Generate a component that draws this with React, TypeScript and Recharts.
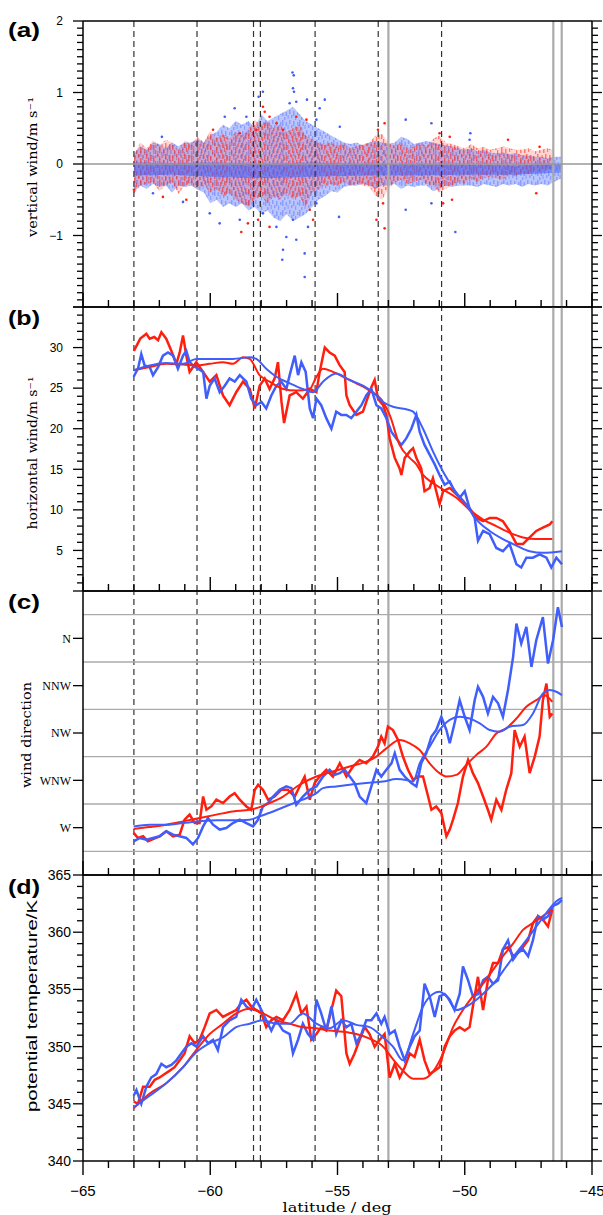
import React from "react";
import { ComposedChart, Line, Area, Scatter, XAxis, YAxis, ReferenceLine } from "recharts";

const RED = "#ff1f0f";
const BLUE = "#3f5efb";
const SANS = "Liberation Sans, Arial, sans-serif";
const SERIF = "DejaVu Serif, serif";

// latitude axis
const LAT_TICKS = [-65, -64, -63, -62, -61, -60, -59, -58, -57, -56, -55, -54, -53, -52, -51, -50, -49, -48, -47, -46, -45];
const LAT_LABELS = [-65, -60, -55, -50, -45];
const DASHED_LATS = [-63.0, -60.52, -58.3, -58.03, -55.88, -53.4, -50.91];
const GRAY_LATS = [-53.0, -46.52, -46.19];

// (a) vertical wind: [lat, low, high] of the dense cloud, plus loose points
const A_LABELS = [2, 1, 0, -1];
const A_MAJORS = [-2, -1, 0, 1, 2];
const redCloudA: [number, number, number][] = [
  [-63.0, -0.42, 0.12], [-62.75, -0.3, 0.3], [-62.5, -0.28, 0.22], [-62.25, -0.25, 0.33], [-62.0, -0.38, 0.26],
  [-61.75, -0.3, 0.34], [-61.5, -0.25, 0.3], [-61.25, -0.42, 0.2], [-61.0, -0.3, 0.33], [-60.75, -0.28, 0.28],
  [-60.5, -0.35, 0.38], [-60.25, -0.3, 0.3], [-60.0, -0.4, 0.46], [-59.75, -0.35, 0.36], [-59.5, -0.45, 0.42],
  [-59.25, -0.4, 0.35], [-59.0, -0.5, 0.45], [-58.75, -0.55, 0.4], [-58.5, -0.6, 0.5], [-58.25, -0.5, 0.62],
  [-58.0, -0.45, 0.55], [-57.75, -0.55, 0.6], [-57.5, -0.45, 0.5], [-57.25, -0.5, 0.55], [-57.0, -0.4, 0.45],
  [-56.75, -0.5, 0.5], [-56.5, -0.45, 0.55], [-56.25, -0.6, 0.4], [-56.0, -0.4, 0.35], [-55.75, -0.35, 0.3],
  [-55.5, -0.3, 0.28], [-55.25, -0.28, 0.3], [-55.0, -0.3, 0.25], [-54.75, -0.25, 0.3], [-54.5, -0.3, 0.22],
  [-54.25, -0.28, 0.25], [-54.0, -0.3, 0.28], [-53.75, -0.32, 0.3], [-53.5, -0.45, 0.4], [-53.25, -0.5, 0.42],
  [-53.0, -0.35, 0.3], [-52.75, -0.25, 0.25], [-52.5, -0.22, 0.3], [-52.25, -0.28, 0.22], [-52.0, -0.25, 0.25],
  [-51.75, -0.22, 0.3], [-51.5, -0.28, 0.25], [-51.25, -0.3, 0.35], [-51.0, -0.4, 0.4], [-50.75, -0.35, 0.3],
  [-50.5, -0.3, 0.28], [-50.25, -0.25, 0.25], [-50.0, -0.28, 0.22], [-49.75, -0.2, 0.28], [-49.5, -0.25, 0.22],
  [-49.25, -0.2, 0.24], [-49.0, -0.18, 0.2], [-48.75, -0.2, 0.22], [-48.5, -0.22, 0.25], [-48.25, -0.15, 0.22],
  [-48.0, -0.18, 0.2], [-47.75, -0.12, 0.2], [-47.5, -0.15, 0.22], [-47.25, -0.1, 0.18], [-47.0, -0.12, 0.2],
  [-46.75, -0.08, 0.22], [-46.55, -0.06, 0.2],
];
const blueCloudA: [number, number, number][] = [
  [-63.0, -0.38, 0.15], [-62.75, -0.3, 0.25], [-62.5, -0.35, 0.2], [-62.25, -0.28, 0.3], [-62.0, -0.32, 0.28],
  [-61.75, -0.3, 0.22], [-61.5, -0.4, 0.3], [-61.25, -0.3, 0.25], [-61.0, -0.32, 0.3], [-60.75, -0.3, 0.3],
  [-60.5, -0.36, 0.35], [-60.25, -0.4, 0.3], [-60.0, -0.55, 0.4], [-59.75, -0.5, 0.45], [-59.5, -0.6, 0.55],
  [-59.25, -0.55, 0.5], [-59.0, -0.6, 0.6], [-58.75, -0.55, 0.55], [-58.5, -0.65, 0.6], [-58.25, -0.6, 0.5],
  [-58.0, -0.7, 0.7], [-57.75, -0.65, 0.6], [-57.5, -0.75, 0.65], [-57.25, -0.8, 0.7], [-57.0, -0.7, 0.75],
  [-56.75, -0.8, 0.8], [-56.5, -0.75, 0.7], [-56.25, -0.7, 0.6], [-56.0, -0.6, 0.55], [-55.75, -0.5, 0.5],
  [-55.5, -0.45, 0.45], [-55.25, -0.38, 0.4], [-55.0, -0.4, 0.35], [-54.75, -0.32, 0.3], [-54.5, -0.3, 0.28],
  [-54.25, -0.3, 0.3], [-54.0, -0.28, 0.26], [-53.75, -0.3, 0.3], [-53.5, -0.35, 0.32], [-53.25, -0.3, 0.3],
  [-53.0, -0.3, 0.28], [-52.75, -0.28, 0.3], [-52.5, -0.35, 0.38], [-52.25, -0.3, 0.35], [-52.0, -0.32, 0.28],
  [-51.75, -0.3, 0.3], [-51.5, -0.3, 0.32], [-51.25, -0.38, 0.3], [-51.0, -0.35, 0.28], [-50.75, -0.3, 0.26],
  [-50.5, -0.32, 0.25], [-50.25, -0.3, 0.22], [-50.0, -0.3, 0.2], [-49.75, -0.3, 0.22], [-49.5, -0.32, 0.18],
  [-49.25, -0.28, 0.2], [-49.0, -0.3, 0.16], [-48.75, -0.32, 0.15], [-48.5, -0.28, 0.16], [-48.25, -0.3, 0.14],
  [-48.0, -0.28, 0.15], [-47.75, -0.32, 0.12], [-47.5, -0.28, 0.12], [-47.25, -0.3, 0.1], [-47.0, -0.28, 0.1],
  [-46.75, -0.3, 0.08], [-46.5, -0.25, 0.1], [-46.18, -0.2, 0.1],
];
const blueCoreA: [number, number, number][] = [
  [-63.0, -0.16, 0.02], [-61.5, -0.15, 0.01], [-60.0, -0.18, 0.02], [-58.0, -0.2, 0.0], [-56.0, -0.18, 0.02],
  [-54.0, -0.16, 0.0], [-52.0, -0.16, 0.0], [-50.0, -0.15, -0.01], [-48.0, -0.15, -0.02], [-46.18, -0.12, 0.0],
];
const redDotsA: [number, number][] = [
  [-58.19, 0.48], [-57.93, 0.8], [-57.86, 0.73], [-57.4, 0.57], [-57.67, 0.66], [-57.14, 0.48], [-56.62, 0.66],
  [-56.22, 0.62], [-59.89, 0.48], [-58.84, 0.43], [-53.41, 0.48], [-53.15, 0.57], [-50.99, 0.43], [-50.59, 0.38],
  [-48.3, 0.34], [-47.06, 0.24], [-58.52, -0.83], [-58.78, -0.95], [-58.12, -0.78], [-57.67, -0.88], [-55.96, -0.78],
  [-56.09, -0.64], [-53.15, -0.9], [-53.21, -0.55], [-50.85, -0.55], [-50.5, -0.5], [-60.94, -0.5], [-61.86, -0.46],
  [-63.0, -0.36], [-53.47, -0.78], [-47.19, -0.41],
];
const blueDotsA: [number, number][] = [
  [-56.77, 1.28], [-56.72, 1.24], [-56.75, 1.06], [-56.71, 1.01], [-56.62, 0.87], [-56.88, 0.85], [-56.2, 0.9],
  [-57.93, 1.01], [-58.1, 0.94], [-59.04, 0.78], [-59.43, 0.66], [-58.58, 0.66], [-55.7, 0.78], [-55.5, 0.9],
  [-55.83, 0.62], [-54.91, 0.52], [-52.32, 0.62], [-51.31, 0.57], [-49.78, 0.43], [-57.14, -1.2], [-57.17, -1.34],
  [-56.29, -1.58], [-56.29, -1.25], [-56.62, -1.06], [-57.01, -1.02], [-57.4, -0.88], [-56.75, -0.78], [-56.16, -0.88],
  [-59.63, -0.83], [-60.02, -0.69], [-58.84, -0.78], [-57.93, -0.69], [-55.83, -0.55], [-54.94, -0.74], [-52.32, -0.64],
  [-50.37, -0.95], [-51.31, -0.55], [-62.25, -0.41], [-61.07, -0.53], [-61.9, 0.38], [-49.81, 0.34],
];

// (b) horizontal wind, m/s
const B_LABELS = [30, 25, 20, 15, 10, 5];
const B_MAJORS = [0, 5, 10, 15, 20, 25, 30, 35];
const redRawB: [number, number][] = [
  [-63.0, 29.6], [-62.75, 31.1], [-62.51, 31.7], [-62.38, 31.1], [-62.2, 31.3], [-62.05, 30.9], [-61.92, 31.9],
  [-61.73, 31.1], [-61.53, 29.6], [-61.33, 28.0], [-61.2, 29.4], [-61.07, 31.5], [-60.94, 29.0], [-60.81, 27.0],
  [-60.55, 28.2], [-60.28, 27.0], [-60.02, 25.8], [-59.76, 26.6], [-59.5, 24.1], [-59.24, 22.9], [-58.98, 24.5],
  [-58.71, 25.8], [-58.45, 24.9], [-58.25, 22.5], [-58.06, 25.3], [-57.86, 26.2], [-57.67, 24.9], [-57.47, 26.2],
  [-57.34, 28.2], [-57.2, 23.3], [-57.1, 20.7], [-56.88, 24.1], [-56.62, 24.5], [-56.36, 23.7], [-56.09, 24.9],
  [-55.83, 24.5], [-55.7, 27.0], [-55.5, 30.0], [-55.31, 29.4], [-55.11, 29.0], [-54.91, 27.8], [-54.72, 27.0],
  [-54.65, 24.1], [-54.52, 22.9], [-54.26, 21.7], [-54.0, 22.1], [-53.87, 23.3], [-53.67, 25.1], [-53.54, 26.0],
  [-53.41, 23.7], [-53.21, 22.9], [-53.08, 21.7], [-52.95, 18.8], [-52.75, 16.4], [-52.56, 15.1], [-52.49, 14.3],
  [-52.36, 16.4], [-52.16, 17.2], [-52.03, 17.6], [-51.9, 16.4], [-51.71, 15.1], [-51.58, 12.3], [-51.38, 12.7],
  [-51.25, 13.9], [-51.12, 12.3], [-50.99, 10.7], [-50.85, 12.3], [-50.59, 12.7], [-50.33, 11.9], [-50.07, 11.1],
  [-49.81, 10.2], [-49.54, 9.0], [-49.28, 8.6], [-49.02, 9.0], [-48.76, 9.0], [-48.5, 8.6], [-48.24, 7.4],
  [-47.97, 5.8], [-47.71, 5.8], [-47.45, 6.6], [-47.19, 7.4], [-46.93, 7.8], [-46.66, 8.2], [-46.56, 8.6],
];
const blueRawB: [number, number][] = [
  [-63.01, 26.4], [-62.84, 27.4], [-62.71, 29.2], [-62.58, 27.8], [-62.38, 27.6], [-62.25, 26.6], [-62.05, 27.6],
  [-61.86, 29.0], [-61.66, 29.4], [-61.46, 29.0], [-61.27, 27.4], [-61.07, 29.0], [-60.94, 29.6], [-60.81, 28.2],
  [-60.68, 27.8], [-60.48, 27.4], [-60.28, 27.0], [-60.15, 23.7], [-60.02, 25.3], [-59.83, 26.2], [-59.63, 24.5],
  [-59.43, 25.3], [-59.24, 26.2], [-59.04, 25.8], [-58.84, 26.6], [-58.58, 25.8], [-58.39, 23.7], [-58.19, 22.9],
  [-57.99, 23.3], [-57.8, 22.5], [-57.6, 24.1], [-57.4, 25.3], [-57.21, 25.8], [-57.01, 24.9], [-56.88, 26.6],
  [-56.68, 29.0], [-56.55, 26.6], [-56.42, 28.2], [-56.25, 27.0], [-56.09, 22.5], [-55.96, 21.3], [-55.83, 23.7],
  [-55.64, 22.9], [-55.44, 21.3], [-55.24, 20.0], [-55.05, 22.1], [-54.85, 21.7], [-54.65, 21.7], [-54.46, 21.3],
  [-54.26, 22.1], [-54.06, 22.9], [-53.87, 24.1], [-53.67, 24.9], [-53.47, 22.9], [-53.28, 22.5], [-53.08, 21.3],
  [-52.88, 19.6], [-52.69, 18.8], [-52.49, 18.0], [-52.3, 18.8], [-52.1, 20.0], [-51.9, 21.7], [-51.77, 19.6],
  [-51.58, 18.0], [-51.38, 16.8], [-51.18, 15.6], [-50.99, 14.3], [-50.79, 13.1], [-50.59, 13.5], [-50.4, 12.3],
  [-50.2, 11.5], [-50.0, 12.3], [-49.81, 10.2], [-49.61, 9.0], [-49.48, 6.2], [-49.28, 7.4], [-49.02, 7.0],
  [-48.76, 5.3], [-48.5, 4.9], [-48.24, 5.8], [-47.97, 3.3], [-47.78, 2.9], [-47.58, 4.1], [-47.32, 4.1],
  [-47.06, 4.5], [-46.79, 4.1], [-46.6, 2.9], [-46.4, 4.1], [-46.18, 3.3],
];
const redSmoothB: [number, number][] = [
  [-63.01, 27.2], [-62.38, 27.6], [-61.73, 28.0], [-61.07, 27.9], [-60.55, 27.8], [-60.02, 28.0], [-59.5, 28.2],
  [-59.11, 28.0], [-58.71, 28.8], [-58.45, 28.6], [-58.06, 26.6], [-57.67, 25.8], [-57.14, 24.9], [-56.62, 24.7],
  [-56.09, 24.9], [-55.83, 26.4], [-55.57, 27.4], [-55.18, 27.0], [-54.78, 26.4], [-54.26, 25.6], [-53.74, 24.7],
  [-53.21, 23.3], [-52.95, 21.7], [-52.56, 18.0], [-52.16, 16.4], [-51.9, 15.6], [-51.64, 14.3], [-51.25, 13.3],
  [-50.85, 12.5], [-50.33, 11.5], [-49.81, 10.0], [-49.28, 8.8], [-48.76, 8.0], [-48.24, 7.2], [-47.71, 6.6],
  [-47.19, 6.4], [-46.56, 6.4],
];
const blueSmoothB: [number, number][] = [
  [-63.01, 27.2], [-62.38, 27.8], [-61.73, 28.1], [-61.07, 28.0], [-60.55, 28.6], [-59.76, 28.6], [-59.11, 28.6],
  [-58.45, 28.8], [-58.19, 28.6], [-57.8, 27.4], [-57.4, 26.4], [-56.88, 25.6], [-56.36, 24.9], [-55.96, 24.5],
  [-55.57, 25.8], [-55.05, 26.8], [-54.52, 26.0], [-54.0, 25.3], [-53.61, 24.5], [-53.21, 23.3], [-52.82, 22.7],
  [-52.3, 22.4], [-52.03, 22.1], [-51.64, 20.0], [-51.25, 17.2], [-50.85, 14.7], [-50.46, 12.7], [-49.94, 10.6],
  [-49.54, 8.8], [-49.02, 7.4], [-48.5, 6.4], [-47.97, 5.6], [-47.45, 4.9], [-46.93, 4.7], [-46.18, 4.9],
];

// (c) wind direction, degrees
const DIR_TICKS = [270, 292.5, 315, 337.5, 360];
const DIR_NAMES = ["W", "WNW", "NW", "NNW", "N"];
const DIR_GRID = [258.75, 281.25, 303.75, 326.25, 348.75, 371.25];
const redRawC: [number, number][] = [
  [-63.01, 267.5], [-62.84, 265.1], [-62.64, 265.9], [-62.45, 263.5], [-62.25, 264.6], [-61.99, 265.9], [-61.73, 268.3],
  [-61.46, 265.9], [-61.2, 266.7], [-61.01, 273.8], [-60.81, 276.2], [-60.61, 272.2], [-60.42, 272.2], [-60.28, 284.8],
  [-60.15, 278.5], [-59.96, 280.1], [-59.76, 283.3], [-59.5, 281.7], [-59.24, 284.8], [-59.04, 286.4], [-58.84, 283.3],
  [-58.58, 280.1], [-58.39, 278.5], [-58.25, 288.0], [-58.12, 290.4], [-57.93, 288.0], [-57.73, 283.3], [-57.47, 284.8],
  [-57.21, 288.0], [-56.95, 288.0], [-56.68, 284.8], [-56.49, 289.6], [-56.29, 294.3], [-56.09, 283.3], [-55.9, 291.2],
  [-55.7, 294.3], [-55.44, 297.5], [-55.18, 294.3], [-54.91, 300.6], [-54.65, 294.3], [-54.39, 299.1], [-54.13, 302.2],
  [-53.87, 300.6], [-53.61, 303.8], [-53.41, 308.5], [-53.28, 313.3], [-53.15, 310.1], [-53.02, 318.0], [-52.82, 316.4],
  [-52.62, 311.7], [-52.43, 303.8], [-52.23, 297.5], [-52.03, 292.7], [-51.84, 294.3], [-51.64, 294.3], [-51.44, 284.8],
  [-51.31, 278.5], [-51.12, 280.1], [-50.92, 276.9], [-50.72, 265.9], [-50.59, 269.1], [-50.46, 273.8], [-50.27, 281.7],
  [-50.07, 294.3], [-49.87, 302.2], [-49.68, 295.9], [-49.48, 291.2], [-49.28, 284.8], [-49.09, 278.5], [-48.96, 273.8],
  [-48.76, 283.3], [-48.56, 278.5], [-48.37, 288.0], [-48.17, 295.9], [-48.04, 316.4], [-47.84, 308.5], [-47.65, 313.3],
  [-47.45, 295.9], [-47.25, 303.8], [-47.06, 313.3], [-46.93, 330.6], [-46.79, 338.5], [-46.66, 322.7], [-46.56, 324.3],
];
const blueRawC: [number, number][] = [
  [-63.01, 263.5], [-62.77, 265.1], [-62.51, 264.3], [-62.25, 265.1], [-61.99, 265.9], [-61.73, 268.3], [-61.46, 266.7],
  [-61.2, 265.9], [-60.94, 265.1], [-60.68, 262.0], [-60.48, 265.1], [-60.28, 270.6], [-60.09, 274.6], [-59.89, 271.4],
  [-59.63, 269.1], [-59.37, 269.8], [-59.11, 272.2], [-58.84, 273.8], [-58.58, 272.2], [-58.32, 270.6], [-58.12, 273.8],
  [-57.93, 280.1], [-57.73, 281.7], [-57.53, 284.8], [-57.27, 288.0], [-57.01, 289.6], [-56.81, 288.8], [-56.62, 280.9],
  [-56.36, 284.8], [-56.09, 288.0], [-55.83, 289.6], [-55.57, 294.3], [-55.31, 297.5], [-55.11, 295.1], [-54.91, 295.9],
  [-54.72, 297.5], [-54.52, 294.3], [-54.33, 291.2], [-54.13, 284.8], [-53.87, 281.7], [-53.67, 289.6], [-53.47, 297.5],
  [-53.28, 294.3], [-53.08, 297.5], [-52.88, 300.6], [-52.75, 305.4], [-52.56, 297.5], [-52.36, 294.3], [-52.1, 291.2],
  [-51.9, 289.6], [-51.71, 300.6], [-51.51, 305.4], [-51.31, 313.3], [-51.12, 316.4], [-50.92, 322.7], [-50.72, 316.4],
  [-50.59, 310.1], [-50.4, 319.6], [-50.2, 330.6], [-50.0, 322.7], [-49.81, 316.4], [-49.61, 330.6], [-49.48, 337.0],
  [-49.28, 332.2], [-49.09, 324.3], [-48.89, 332.2], [-48.69, 329.1], [-48.5, 322.7], [-48.3, 335.4], [-48.1, 351.2],
  [-47.97, 367.0], [-47.78, 357.5], [-47.58, 365.4], [-47.38, 346.4], [-47.19, 359.1], [-46.93, 370.1], [-46.73, 348.0],
  [-46.53, 359.1], [-46.34, 374.8], [-46.18, 365.4],
];
const redSmoothC: [number, number][] = [
  [-63.01, 269.4], [-62.38, 270.3], [-61.73, 271.4], [-61.07, 273.0], [-60.42, 274.6], [-59.76, 276.2], [-59.11, 277.7],
  [-58.45, 278.5], [-58.19, 279.3], [-57.67, 281.7], [-57.14, 284.8], [-56.49, 290.4], [-55.83, 294.3], [-55.18, 296.7],
  [-54.52, 299.1], [-53.87, 301.4], [-53.47, 303.8], [-53.08, 307.7], [-52.56, 311.7], [-52.16, 310.1], [-51.77, 306.9],
  [-51.38, 300.6], [-50.99, 295.9], [-50.72, 294.3], [-50.33, 295.1], [-49.94, 299.8], [-49.54, 304.6], [-49.15, 308.5],
  [-48.76, 314.8], [-48.37, 317.2], [-47.97, 321.9], [-47.58, 327.5], [-47.19, 330.6], [-46.86, 333.0], [-46.56, 329.8],
];
const blueSmoothC: [number, number][] = [
  [-63.01, 270.6], [-62.38, 271.4], [-61.73, 271.4], [-61.07, 272.2], [-60.42, 273.0], [-59.76, 273.5], [-59.11, 273.5],
  [-58.45, 273.8], [-58.06, 275.4], [-57.53, 277.7], [-56.88, 280.9], [-56.36, 283.3], [-55.83, 286.4], [-55.57, 288.8],
  [-55.05, 289.6], [-54.52, 290.4], [-53.87, 291.2], [-53.21, 291.9], [-52.69, 293.1], [-52.3, 292.7], [-52.03, 291.9],
  [-51.77, 300.6], [-51.38, 308.5], [-50.99, 316.4], [-50.59, 321.2], [-50.2, 322.7], [-49.81, 321.9], [-49.41, 319.6],
  [-49.02, 316.4], [-48.63, 315.6], [-48.24, 318.0], [-47.71, 318.8], [-47.32, 324.3], [-46.93, 333.8], [-46.66, 335.4],
  [-46.4, 334.6], [-46.18, 333.0],
];

// (d) potential temperature, K
const D_LABELS = [365, 360, 355, 350, 345, 340];
const redRawD: [number, number][] = [
  [-63.01, 345.2], [-62.84, 345.0], [-62.64, 346.5], [-62.38, 346.5], [-62.18, 347.1], [-61.99, 347.3], [-61.79, 347.6],
  [-61.59, 347.9], [-61.4, 348.2], [-61.2, 348.8], [-61.01, 349.4], [-60.81, 350.9], [-60.61, 350.3], [-60.42, 350.6],
  [-60.22, 351.7], [-60.02, 352.9], [-59.76, 353.2], [-59.5, 352.6], [-59.24, 352.9], [-58.98, 353.2], [-58.78, 353.8],
  [-58.58, 354.1], [-58.39, 353.5], [-58.19, 353.2], [-57.99, 352.9], [-57.8, 351.7], [-57.6, 352.3], [-57.4, 352.6],
  [-57.14, 352.3], [-56.88, 353.2], [-56.62, 354.6], [-56.42, 352.9], [-56.22, 353.5], [-56.03, 350.6], [-55.83, 351.1],
  [-55.64, 351.7], [-55.44, 351.4], [-55.24, 353.2], [-55.05, 354.9], [-54.85, 354.4], [-54.65, 349.4], [-54.52, 348.5],
  [-54.33, 349.4], [-54.13, 350.6], [-53.93, 351.7], [-53.74, 351.1], [-53.54, 350.0], [-53.34, 350.6], [-53.15, 351.1],
  [-52.95, 347.3], [-52.75, 348.5], [-52.56, 347.3], [-52.36, 348.2], [-52.16, 349.4], [-51.97, 349.1], [-51.77, 350.6],
  [-51.58, 348.8], [-51.38, 347.6], [-51.18, 347.9], [-50.99, 348.2], [-50.79, 350.0], [-50.59, 350.9], [-50.4, 351.4],
  [-50.2, 351.7], [-50.0, 351.4], [-49.81, 351.7], [-49.68, 353.5], [-49.48, 356.1], [-49.28, 353.2], [-49.09, 355.8],
  [-48.89, 357.3], [-48.69, 357.3], [-48.5, 358.5], [-48.3, 358.7], [-48.1, 357.9], [-47.91, 358.2], [-47.71, 358.7],
  [-47.51, 359.3], [-47.32, 360.8], [-47.12, 361.4], [-46.93, 361.1], [-46.73, 360.5], [-46.56, 362.0],
];
const blueRawD: [number, number][] = [
  [-63.01, 345.7], [-62.9, 346.2], [-62.71, 345.0], [-62.51, 346.5], [-62.32, 347.3], [-62.12, 347.6], [-61.92, 348.5],
  [-61.73, 348.2], [-61.53, 348.4], [-61.33, 348.8], [-61.14, 349.4], [-60.94, 350.0], [-60.74, 350.3], [-60.55, 350.0],
  [-60.28, 350.9], [-60.09, 350.3], [-59.89, 350.6], [-59.7, 349.7], [-59.5, 351.7], [-59.24, 352.3], [-58.98, 352.6],
  [-58.78, 354.1], [-58.58, 353.5], [-58.39, 353.2], [-58.19, 354.1], [-57.99, 353.2], [-57.8, 352.3], [-57.6, 351.4],
  [-57.4, 352.3], [-57.14, 351.4], [-56.88, 351.1], [-56.75, 349.4], [-56.55, 350.6], [-56.36, 352.0], [-56.16, 351.1],
  [-55.96, 350.6], [-55.83, 354.1], [-55.64, 352.9], [-55.44, 351.4], [-55.24, 353.5], [-55.05, 351.1], [-54.85, 352.3],
  [-54.65, 351.7], [-54.46, 352.0], [-54.26, 350.3], [-54.06, 351.1], [-53.87, 352.3], [-53.67, 352.3], [-53.47, 352.9],
  [-53.28, 352.0], [-53.15, 352.6], [-52.95, 351.1], [-52.75, 351.4], [-52.56, 350.0], [-52.36, 348.8], [-52.16, 350.0],
  [-51.97, 350.9], [-51.77, 351.4], [-51.58, 355.5], [-51.38, 354.4], [-51.18, 352.6], [-50.99, 354.4], [-50.79, 354.6],
  [-50.59, 354.1], [-50.4, 353.2], [-50.2, 354.6], [-50.07, 357.0], [-49.87, 355.8], [-49.68, 354.4], [-49.48, 354.6],
  [-49.28, 355.8], [-49.09, 356.1], [-48.89, 355.5], [-48.69, 355.8], [-48.5, 358.5], [-48.3, 359.3], [-48.1, 357.6],
  [-47.91, 358.2], [-47.71, 358.5], [-47.51, 357.9], [-47.32, 359.3], [-47.12, 361.4], [-46.93, 361.1], [-46.73, 361.4],
  [-46.53, 362.3], [-46.34, 362.5], [-46.18, 362.8],
];
const redSmoothD: [number, number][] = [
  [-63.01, 344.6], [-62.38, 345.9], [-61.73, 346.8], [-61.07, 348.2], [-60.55, 349.7], [-60.02, 351.1], [-59.5, 352.0],
  [-58.98, 352.9], [-58.45, 353.3], [-57.93, 352.9], [-57.4, 352.3], [-56.88, 352.0], [-56.36, 351.7], [-55.83, 351.6],
  [-55.31, 351.4], [-54.78, 351.3], [-54.26, 351.1], [-53.74, 350.7], [-53.21, 350.0], [-52.82, 348.9], [-52.43, 347.9],
  [-52.03, 347.2], [-51.64, 347.2], [-51.25, 347.8], [-50.85, 349.4], [-50.46, 351.7], [-50.07, 353.2], [-49.68, 354.4],
  [-49.28, 355.5], [-48.89, 356.7], [-48.5, 357.9], [-48.1, 359.0], [-47.71, 360.2], [-47.32, 360.8], [-46.93, 361.4],
  [-46.56, 362.0],
];
const blueSmoothD: [number, number][] = [
  [-63.01, 344.7], [-62.38, 345.7], [-61.73, 346.8], [-61.07, 348.2], [-60.55, 349.5], [-60.02, 350.3], [-59.5, 350.8],
  [-58.98, 351.7], [-58.45, 352.0], [-57.93, 352.3], [-57.4, 352.0], [-56.88, 352.0], [-56.36, 352.9], [-55.83, 352.0],
  [-55.31, 351.6], [-54.78, 352.3], [-54.26, 351.9], [-53.74, 351.7], [-53.21, 350.8], [-52.82, 350.0], [-52.43, 348.8],
  [-52.03, 351.1], [-51.64, 353.5], [-51.25, 354.6], [-50.99, 354.8], [-50.72, 354.4], [-50.33, 353.2], [-49.94, 353.5],
  [-49.54, 354.1], [-49.15, 354.9], [-48.76, 355.8], [-48.37, 357.0], [-47.97, 358.2], [-47.58, 359.3], [-47.19, 360.5],
  [-46.79, 361.7], [-46.4, 362.7], [-46.18, 363.0],
];

const pts = (a: [number, number][]) => a.map(([lat, v]) => ({ lat, v }));
const band = (a: [number, number, number][]) => a.map(([lat, lo, hi]) => ({ lat, r: [lo, hi] }));
const steps = (a: number, b: number, s: number) => {
  const out: number[] = [];
  for (let v = a; v <= b + 1e-9; v += s) out.push(Math.round(v * 100) / 100);
  return out;
};
const near = (list: number[], v: number) => list.some((t) => Math.abs(t - v) < 1e-6);
const fmtNum = (v: number) => (v < 0 ? "\u2212" + Math.abs(v) : String(v));

// speckle textures for the dense part of the vertical-wind cloud: [x, y, w, h]
const RED_SPECKS = [[1, 2, 1.5, 5], [3, 7, 1.2, 4], [5, 0, 1.5, 3], [7, 4, 1.5, 6], [9.5, 1, 1.2, 3], [11, 6, 1.5, 4], [13, 0, 1.5, 5], [15, 5, 1.2, 4], [17, 1, 1.5, 6]];
const BLUE_SPECKS = [[0, 0, 1.5, 4], [2, 5, 1.5, 3], [4, 1, 1.5, 5], [6, 6, 1.2, 4], [8, 2, 1.5, 3], [10, 0, 1.5, 6], [12, 7, 1.5, 3], [13.5, 2, 1.5, 4], [15.5, 5, 1.2, 4]];

function xTick(side: "top" | "bottom", inward: boolean, outward: boolean, labels: boolean) {
  return (p: any) => {
    const v = p.payload.value as number;
    const big = near(LAT_LABELS, v);
    const len = big ? 14 : 7;
    const out = side === "bottom" ? 1 : -1;
    const y1 = inward ? p.y - out * len : p.y;
    const y2 = outward ? p.y + out * len : p.y;
    return (
      <g>
        <line x1={p.x} x2={p.x} y1={y1} y2={y2} stroke="#000" strokeWidth={1.4} />
        {labels && big ? (
          <text x={p.x} y={p.y + 35} textAnchor="middle" fontSize={15} fontFamily={SANS} fill="#000">
            {fmtNum(v)}
          </text>
        ) : null}
      </g>
    );
  };
}

type YFont = { size: number; family: string; gap: number };
function yTick(side: "left" | "right", majors: number[], labels: number[] | null, fmt: (v: number) => string, font: YFont) {
  return (p: any) => {
    const v = Math.round((p.payload.value as number) * 100) / 100;
    const big = near(majors, v);
    const len = big ? 10 : 6;
    const s = side === "left" ? -1 : 1;
    const show = labels !== null && near(labels, v);
    return (
      <g>
        <line x1={p.x} x2={p.x + s * len} y1={p.y} y2={p.y} stroke="#000" strokeWidth={1.3} />
        {show ? (
          <text x={p.x - font.gap} y={p.y} dy="0.36em" textAnchor="end" fontSize={font.size} fontFamily={font.family} fill="#000">
            {fmt(v)}
          </text>
        ) : null}
      </g>
    );
  };
}

type PanelProps = {
  top: number;
  mt: number;
  mb: number;
  plotH: number;
  domain: [number, number];
  yTicks: number[];
  yMajors: number[];
  yLabels: number[];
  yFmt: (v: number) => string;
  yFont: YFont;
  topOut: boolean;
  bottomOut: boolean;
  defs?: React.ReactNode;
  children?: React.ReactNode;
};

// axes are 1px thick so recharts draws them; margins are one pixel smaller to compensate
function Panel(p: PanelProps) {
  const axisLine = { stroke: "#000", strokeWidth: 1.5 };
  return (
    <div style={{ position: "absolute", left: 0, top: p.top }}>
      <ComposedChart width={603} height={p.mt + p.plotH + p.mb} margin={{ top: p.mt - 1, bottom: p.mb - 1, left: 82, right: 10 }}>
        {p.defs}
        <XAxis xAxisId="b" dataKey="lat" type="number" domain={[-65, -45]} allowDataOverflow ticks={LAT_TICKS} interval={0}
          height={1} tickSize={0} tickMargin={0} axisLine={axisLine} tickLine={false}
          tick={xTick("bottom", !p.bottomOut, p.bottomOut, p.bottomOut)} />
        <XAxis xAxisId="t" orientation="top" type="number" domain={[-65, -45]} allowDataOverflow ticks={LAT_TICKS} interval={0}
          height={1} tickSize={0} tickMargin={0} axisLine={axisLine} tickLine={false}
          tick={xTick("top", !p.topOut, p.topOut, false)} />
        <YAxis yAxisId="l" type="number" domain={p.domain} allowDataOverflow ticks={p.yTicks} interval={0}
          width={1} tickSize={0} tickMargin={0} axisLine={axisLine} tickLine={false}
          tick={yTick("left", p.yMajors, p.yLabels, p.yFmt, p.yFont)} />
        <YAxis yAxisId="r" orientation="right" type="number" domain={p.domain} allowDataOverflow ticks={p.yTicks} interval={0}
          width={1} tickSize={0} tickMargin={0} axisLine={axisLine} tickLine={false}
          tick={yTick("right", p.yMajors, null, p.yFmt, p.yFont)} />
        {DASHED_LATS.map((x) => (
          <ReferenceLine key={"d" + x} xAxisId="b" yAxisId="l" x={x} stroke="#333" strokeWidth={1.2} strokeDasharray="6 4" />
        ))}
        {GRAY_LATS.map((x) => (
          <ReferenceLine key={"g" + x} xAxisId="b" yAxisId="l" x={x} stroke="#aaa" strokeWidth={2.2} />
        ))}
        {p.children}
      </ComposedChart>
    </div>
  );
}

const raw = (data: [number, number][], color: string, key: string) => (
  <Line key={key} xAxisId="b" yAxisId="l" data={pts(data)} dataKey="v" type="linear" stroke={color} strokeWidth={2.5}
    dot={false} activeDot={false} isAnimationActive={false} />
);
const smooth = (data: [number, number][], color: string, key: string) => (
  <Line key={key} xAxisId="b" yAxisId="l" data={pts(data)} dataKey="v" type="monotone" stroke={color} strokeWidth={2}
    dot={false} activeDot={false} isAnimationActive={false} />
);
const dots = (data: [number, number][], color: string, key: string) => (
  <Scatter key={key} xAxisId="b" yAxisId="l" data={pts(data)} dataKey="v" fill={color} isAnimationActive={false}
    shape={(s: any) => <circle cx={s.cx} cy={s.cy} r={1.3} fill={color} />} />
);

const speckleDefs = (
  <defs>
    <pattern id="blueSpeckle" width="17" height="10" patternUnits="userSpaceOnUse">
      <rect width="17" height="10" fill={BLUE} fillOpacity={0.6} />
      {BLUE_SPECKS.map(([x, y, w, h], i) => <rect key={i} x={x} y={y} width={w} height={h} fill={BLUE} />)}
    </pattern>
    <pattern id="redSpeckle" width="19" height="11" patternUnits="userSpaceOnUse">
      <rect width="19" height="11" fill={RED} fillOpacity={0.3} />
      {RED_SPECKS.map(([x, y, w, h], i) => <rect key={i} x={x} y={y} width={w} height={h} fill={RED} />)}
    </pattern>
  </defs>
);

const TITLES = [
  { text: "vertical wind/m s\u207B\u00B9", x: 32, y: 167, len: 140, size: 13, family: SERIF },
  { text: "horizontal wind/m s\u207B\u00B9", x: 32, y: 453, len: 153, size: 13, family: SERIF },
  { text: "wind direction", x: 26, y: 735, len: 106, size: 13, family: SERIF },
  { text: "potential temperature/K", x: 32, y: 1006, len: 212, size: 14, family: SANS },
];
const LETTERS = [
  { text: "(a)", y: 37 },
  { text: "(b)", y: 325 },
  { text: "(c)", y: 609 },
  { text: "(d)", y: 894 },
];

export default function App() {
  return (
    <div style={{ position: "absolute", left: 0, top: 0, width: 603, height: 1215, background: "#fff", overflow: "hidden" }}>
      <Panel top={0} mt={21} mb={20} plotH={286} domain={[-2, 2]} yTicks={steps(-2, 2, 0.1)} yMajors={A_MAJORS}
        yLabels={A_LABELS} yFmt={fmtNum} yFont={{ size: 12, family: SANS, gap: 20 }} topOut={true} bottomOut={false}
        defs={speckleDefs}>
        <ReferenceLine xAxisId="b" yAxisId="l" y={0} stroke="#999" strokeWidth={1.5} />
        <Area xAxisId="b" yAxisId="l" data={band(blueCloudA)} dataKey="r" type="linear" stroke="none"
          fill="url(#blueSpeckle)" isAnimationActive={false} />
        <Area xAxisId="b" yAxisId="l" data={band(redCloudA)} dataKey="r" type="linear" stroke="none"
          fill="url(#redSpeckle)" isAnimationActive={false} />
        <Area xAxisId="b" yAxisId="l" data={band(blueCoreA)} dataKey="r" type="linear" stroke="none" fill={BLUE}
          fillOpacity={0.55} isAnimationActive={false} />
        {dots(redDotsA, RED, "rda")}
        {dots(blueDotsA, BLUE, "bda")}
      </Panel>
      <Panel top={287} mt={20} mb={20} plotH={284} domain={[0, 35]} yTicks={steps(0, 35, 1)} yMajors={B_MAJORS}
        yLabels={B_LABELS} yFmt={fmtNum} yFont={{ size: 12, family: SANS, gap: 20 }} topOut={false} bottomOut={false}>
        {raw(redRawB, RED, "rrb")}
        {raw(blueRawB, BLUE, "brb")}
        {smooth(redSmoothB, RED, "rsb")}
        {smooth(blueSmoothB, BLUE, "bsb")}
      </Panel>
      <Panel top={571} mt={20} mb={20} plotH={284} domain={[247.5, 382.5]} yTicks={DIR_TICKS} yMajors={DIR_TICKS}
        yLabels={DIR_TICKS} yFmt={(v) => DIR_NAMES[DIR_TICKS.indexOf(v)] ?? ""}
        yFont={{ size: 12, family: "Liberation Serif, serif", gap: 12 }} topOut={false} bottomOut={false}>
        {DIR_GRID.map((y) => (
          <ReferenceLine key={"h" + y} xAxisId="b" yAxisId="l" y={y} stroke="#aaa" strokeWidth={1.3} />
        ))}
        {raw(redRawC, RED, "rrc")}
        {raw(blueRawC, BLUE, "brc")}
        {smooth(redSmoothC, RED, "rsc")}
        {smooth(blueSmoothC, BLUE, "bsc")}
      </Panel>
      <Panel top={855} mt={20} mb={54} plotH={286} domain={[340, 365]} yTicks={steps(340, 365, 1)} yMajors={D_LABELS}
        yLabels={D_LABELS} yFmt={fmtNum} yFont={{ size: 14, family: SANS, gap: 12 }} topOut={false} bottomOut={true}>
        {raw(redRawD, RED, "rrd")}
        {raw(blueRawD, BLUE, "brd")}
        {smooth(redSmoothD, RED, "rsd")}
        {smooth(blueSmoothD, BLUE, "bsd")}
      </Panel>
      <svg width={603} height={1215} style={{ position: "absolute", left: 0, top: 0, pointerEvents: "none" }}>
        {TITLES.map((t) => (
          <text key={t.text} transform={`translate(${t.x},${t.y}) rotate(-90)`} textAnchor="middle" dominantBaseline="central"
            fontSize={t.size} fontFamily={t.family} textLength={t.len} lengthAdjust="spacingAndGlyphs" fill="#000">
            {t.text}
          </text>
        ))}
        {LETTERS.map((l) => (
          <text key={l.text} x={8} y={l.y} fontSize={21} fontWeight="bold" fontFamily={SANS} textLength={32}
            lengthAdjust="spacingAndGlyphs" fill="#000">
            {l.text}
          </text>
        ))}
        <text x={337} y={1212} textAnchor="middle" fontSize={13} fontFamily={SERIF} textLength={109}
          lengthAdjust="spacingAndGlyphs" fill="#000">
          latitude / deg
        </text>
      </svg>
    </div>
  );
}
